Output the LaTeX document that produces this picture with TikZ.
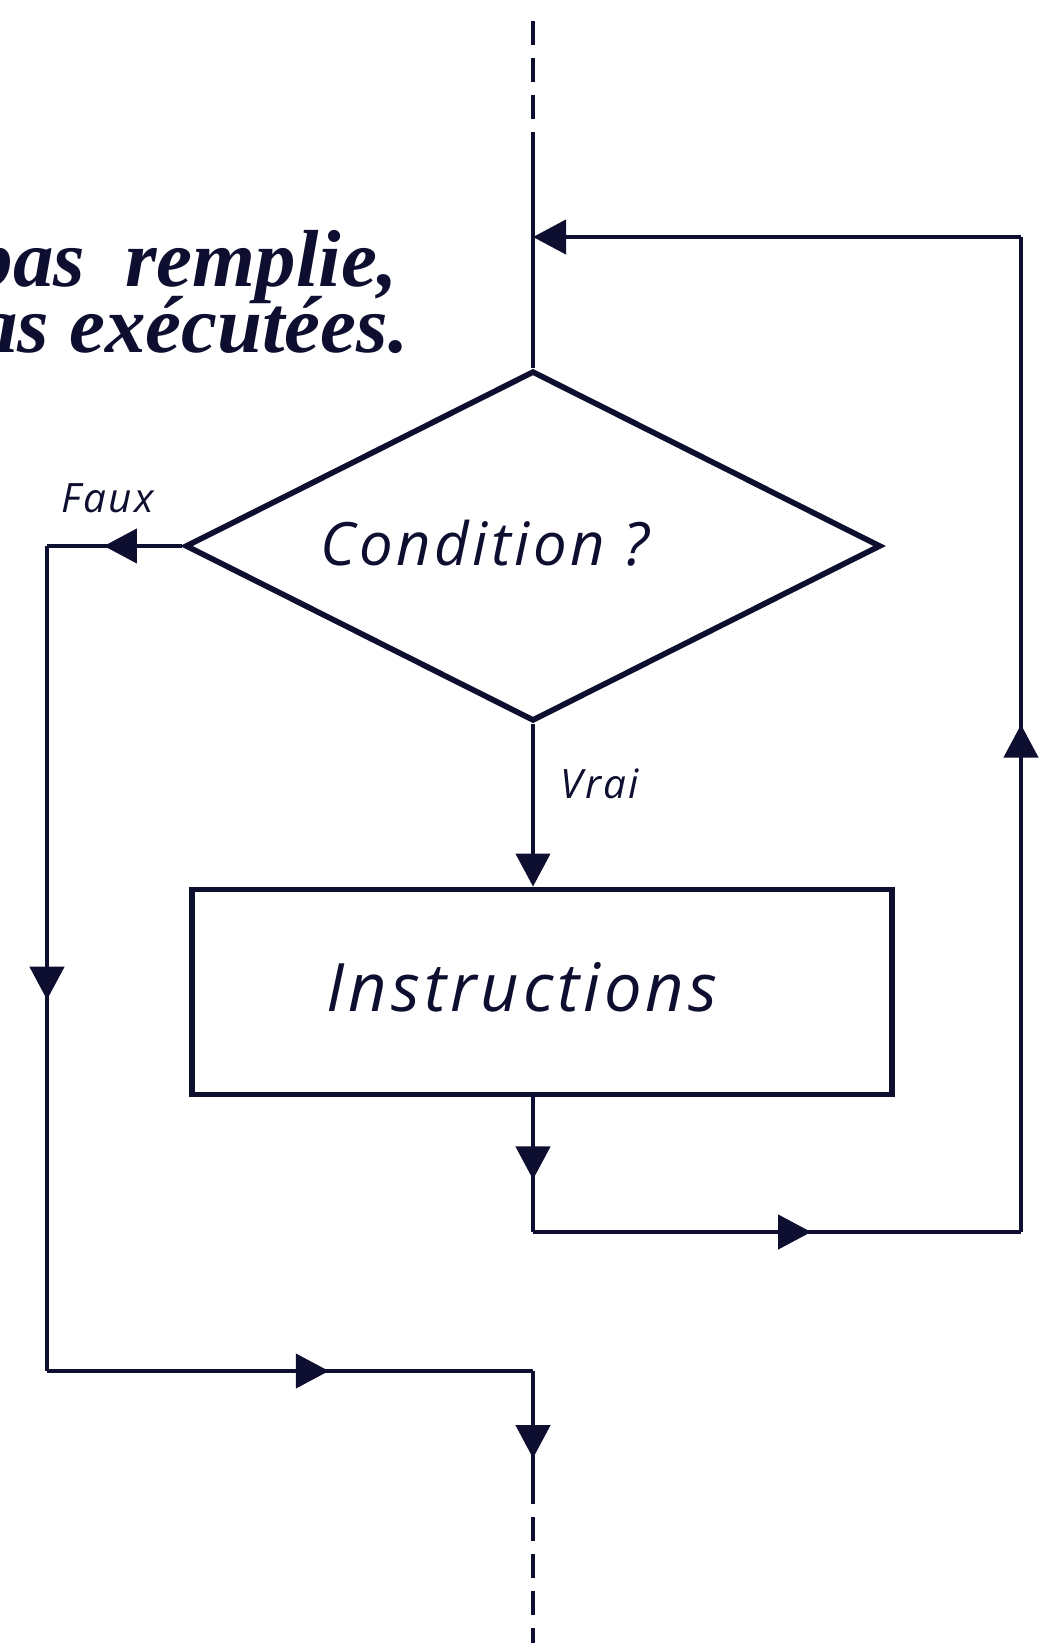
\documentclass[tikz,border=0pt]{standalone}
\usepackage{fontspec}
\usepackage{tikz}
\usetikzlibrary{shapes.geometric,arrows.meta,decorations.markings}
\newfontfamily\handfont[LetterSpace=6]{Open Sans}
\newfontfamily\bookfont{Liberation Serif}
\definecolor{ink}{HTML}{0E0E30}
\tikzset{
  flow/.style={draw=ink, line width=1.2pt},
  boxline/.style={draw=ink, line width=1.6pt},
  hand/.style={text=ink, font=\handfont\itshape\fontsize{#1}{#1}\selectfont},
  midarrow/.style={postaction={decorate, decoration={markings,
      mark=at position #1 with {\arrow[ink]{Triangle[length=3.3mm,width=3.4mm]}}}}},
  dashline/.style={flow, dash pattern=on 2.4mm off 1.3mm},
}

\begin{document}
\begin{tikzpicture}[x=0.01cm, y=-0.01cm]
    \useasboundingbox (0,0) rectangle (1052,1651);

    \node[anchor=base east, inner sep=0, text=ink,
          font=\bookfont\bfseries\itshape\fontsize{23}{19}\selectfont] (head1) at (398,286) {pas\ \ remplie,};
    \node[anchor=base east, inner sep=0, text=ink,
          font=\bookfont\bfseries\itshape\fontsize{23}{19}\selectfont] (head2) at (409,352) {pas exécutées.};

    \node[boxline, diamond, minimum width=6.95cm, minimum height=3.5cm, inner sep=0] (cond) at (533,546) {};
    \node[hand=17] (condtxt) at (485,543) {Condition ?};
    \node[boxline, rectangle, minimum width=6.99cm, minimum height=2.05cm] (instr) at (542,992) {};
    \node[hand=19] (instrtxt) at (522,987) {Instructions};
    \node[hand=11.5] (faux) at (108,498) {Faux};
    \node[hand=11.5, anchor=west] (vrai) at (548,784) {Vrai};

    \coordinate (top)      at (533,21);
    \coordinate (topsolid) at (533,132);
    \coordinate (join)     at (533,237);
    \coordinate (fl)       at (47,546);
    \coordinate (bl)       at (47,1371);
    \coordinate (br)       at (533,1371);
    \coordinate (endsolid) at (533,1480);
    \coordinate (bottom)   at (533,1643);
    \coordinate (ll)       at (533,1232);
    \coordinate (lr)       at (1021,1232);
    \coordinate (ur)       at (1021,237);

    \draw[dashline] (top) -- (topsolid);
    \draw[flow] (topsolid) -- (cond.north);
    \draw[flow, -{Triangle[length=3.3mm,width=3.4mm]}] (cond.south) -- (cond.south |- instr.north);

    \draw[flow, midarrow=0.58] (cond.west) -- (fl);
    \draw[flow, midarrow=0.55] (fl) -- (bl);
    \draw[flow, midarrow=0.58] (bl) -- (br);
    \draw[flow, midarrow=0.8] (br) -- (endsolid);
    \draw[dashline] (endsolid) -- (bottom);

    \draw[flow, midarrow=0.61] (ll |- instr.south) -- (ll);
    \draw[flow, midarrow=0.57] (ll) -- (lr);
    \draw[flow, midarrow=0.51] (lr) -- (ur);
    \draw[flow, -{Triangle[length=3.3mm,width=3.4mm]}] (ur) -- (join);
\end{tikzpicture}
\end{document}
